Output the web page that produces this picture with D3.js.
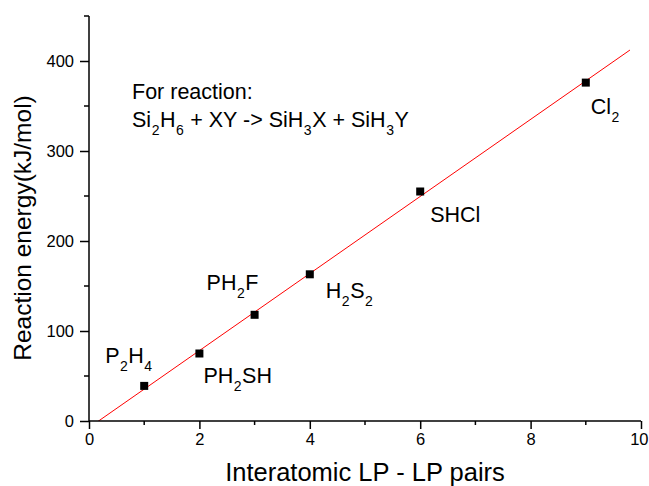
<!DOCTYPE html>
<html>
<head>
<meta charset="utf-8">
<script src="https://cdn.jsdelivr.net/npm/d3@7"></script>
<style>
  body { margin: 0; background: #fff; }
  svg { display: block; font-family: Arial, "Liberation Sans", sans-serif; }
</style>
</head>
<body>
<div id="chart"></div>
<script>
// LP-LP pairs vs reaction energy for Si2H6 + XY -> SiH3X + SiH3Y
const pairs = [1, 2, 3, 4, 6, 9]
const energies = [39, 75, 118, 163, 255, 376]
// "_" marks the following digit as a subscript
const names = ["P_2H_4", "PH_2SH", "PH_2F", "H_2S_2", "SHCl", "Cl_2"]
// where each name sits relative to its point (px)
const labelOffsets = [[-39, -23], [4, 29], [-48, -25], [16, 24], [10, 30], [5, 31]]

const xMajor = [0, 2, 4, 6, 8, 10]
const xMinor = [1, 3, 5, 7, 9]
const yMajor = [0, 100, 200, 300, 400]
const yMinor = [50, 150, 250, 350, 450]

const width = 649, height = 486
const labelSize = 21.5, subSize = 14

const svg = d3.select("#chart").append("svg")
    .attr("width", width)
    .attr("height", height)

const x = d3.scaleLinear().domain([0, 10]).range([89, 641])
const y = d3.scaleLinear().domain([0, 450]).range([421, 16])

// least squares fit through the points
const mx = d3.mean(pairs), my = d3.mean(energies)
let sxy = 0, sxx = 0
for (let i = 0; i < pairs.length; i++) {
    sxy += (pairs[i] - mx) * (energies[i] - my)
    sxx += (pairs[i] - mx) * (pairs[i] - mx)
}
const slope = sxy / sxx
const intercept = my - slope * mx

svg.append("clipPath").attr("id", "plot")
  .append("rect")
    .attr("x", x(0)).attr("y", y(450))
    .attr("width", x(10) - x(0)).attr("height", y(0) - y(450))

const fitX = [0, 9.8]
svg.append("line")
    .attr("clip-path", "url(#plot)")
    .attr("x1", x(fitX[0])).attr("y1", y(intercept + slope * fitX[0]))
    .attr("x2", x(fitX[1])).attr("y2", y(intercept + slope * fitX[1]))
    .attr("stroke", "#ff0000")
    .attr("stroke-width", 1)

// axes
const xAxis = svg.append("g")
    .attr("transform", "translate(0," + y(0) + ")")
    .call(d3.axisBottom(x).tickValues(xMajor).tickSize(8).tickPadding(4).tickFormat(d3.format("d")))
xAxis.append("g").selectAll("line")
    .data(xMinor).enter().append("line")
    .attr("x1", d => x(d)).attr("x2", d => x(d))
    .attr("y1", 0).attr("y2", 4)
    .attr("stroke", "#000").attr("stroke-width", 1.5)

const yAxis = svg.append("g")
    .attr("transform", "translate(" + x(0) + ",0)")
    .call(d3.axisLeft(y).tickValues(yMajor).tickSize(9).tickPadding(6))
yAxis.append("g").selectAll("line")
    .data(yMinor).enter().append("line")
    .attr("y1", d => y(d)).attr("y2", d => y(d))
    .attr("x1", 0).attr("x2", -5)
    .attr("stroke", "#000").attr("stroke-width", 1.5)

svg.selectAll(".domain").attr("stroke", "#000").attr("stroke-width", 1.5)
svg.selectAll(".tick line").attr("stroke", "#000").attr("stroke-width", 1.5)
svg.selectAll(".tick text")
    .attr("font-family", "Arial, 'Liberation Sans', sans-serif")
    .attr("font-size", 16.5)
    .attr("fill", "#000")

// last x label sits at the right edge, keep it inside
xAxis.selectAll(".tick").filter(d => d === 10).select("text")
    .attr("text-anchor", "end").attr("x", 7)

// plain domain lines, no end caps
xAxis.select(".domain").attr("d", "M" + x(0) + ",0H" + x(10))
yAxis.select(".domain").attr("d", "M0," + y(0) + "V" + y(450))

// markers
svg.selectAll("rect.pt")
    .data(pairs).enter().append("rect")
    .attr("class", "pt")
    .attr("x", d => x(d) - 4)
    .attr("y", (d, i) => y(energies[i]) - 4)
    .attr("width", 8).attr("height", 8)
    .attr("fill", "#000")

function chemText(sel, str) {
    const parts = str.split(/(_\d)/).filter(s => s.length)
    let down = false
    parts.forEach(p => {
        if (p[0] === "_") {
            sel.append("tspan").attr("dy", 8).attr("dx", 0.5).attr("font-size", subSize).text(p.slice(1))
            down = true
        } else {
            sel.append("tspan").attr("dy", down ? -8 : 0).attr("dx", down ? 0.5 : 0).text(p)
            down = false
        }
    })
}

names.forEach((n, i) => {
    const t = svg.append("text")
        .attr("x", x(pairs[i]) + labelOffsets[i][0])
        .attr("y", y(energies[i]) + labelOffsets[i][1])
        .attr("font-size", labelSize)
        .attr("fill", "#000")
    chemText(t, n)
})

svg.append("text")
    .attr("x", 132).attr("y", 99)
    .attr("font-size", labelSize)
    .text("For reaction:")
chemText(svg.append("text").attr("x", 132).attr("y", 127).attr("font-size", labelSize),
    "Si_2H_6 + XY -> SiH_3X + SiH_3Y")

// axis titles
svg.append("text")
    .attr("x", 365)
    .attr("y", 481)
    .attr("text-anchor", "middle")
    .attr("font-size", 25.5)
    .text("Interatomic LP - LP pairs")

svg.append("text")
    .attr("transform", "translate(31,228) rotate(-90)")
    .attr("text-anchor", "middle")
    .attr("font-size", 24.5)
    .text("Reaction energy(kJ/mol)")
</script>
</body>
</html>
